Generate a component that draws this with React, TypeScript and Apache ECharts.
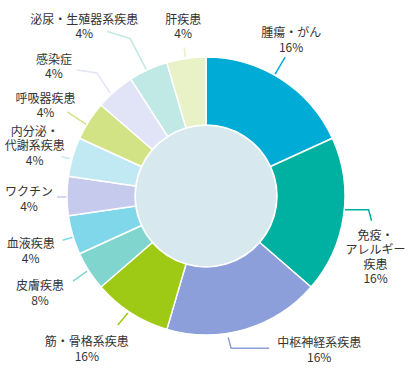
import React, { useEffect, useRef } from 'react';
import * as echarts from 'echarts';

const categories = [
  '腫瘍・がん',
  '免疫・\nアレルギー\n疾患',
  '中枢神経系疾患',
  '筋・骨格系疾患',
  '皮膚疾患',
  '血液疾患',
  'ワクチン',
  '内分泌・\n代謝系疾患',
  '呼吸器疾患',
  '感染症',
  '泌尿・生殖器系疾患',
  '肝疾患',
];
const sliceValues = [16, 16, 16, 8, 4, 4, 4, 4, 4, 4, 4, 4];
const labelPercents = [16, 16, 16, 16, 8, 4, 4, 4, 4, 4, 4, 4];
const colors = [
  '#00acd5', '#00b0a0', '#8c9fda', '#9ec914', '#80d6cf', '#80d7ea',
  '#c6caed', '#c0e9f4', '#d2e386', '#e1e3f6', '#c0e8e4', '#e9f2c7',
];

const CX = 206;
const CY = 196;
const R_OUT = 139;
const R_IN = 71;

// offsets relative to each slice's outer mid point: line points and label centre
const LABEL_LAYOUT: { pts: number[][]; c: number[] }[] = [
  { pts: [[-6, -5], [-1, -13.5], [4, -22]], c: [10, -40] },
  { pts: [[1, -6], [25, -6], [28, 5]], c: [32, 40] },
  { pts: [[-17, 8], [-14, 19], [24, 19]], c: [74, 19.5] },
  { pts: [[-3, 0], [-8, 6], [-13, 12]], c: [-44, 35] },
  { pts: [[-2, 0], [-9, 5], [-16, 10]], c: [-49, 21] },
  { pts: [[0, 2], [-5, 3.5], [-10, 5]], c: [-42, 15] },
  { pts: [[0, 1], [-5, 1], [-10, 1]], c: [-38, 2] },
  { pts: [[-3, 2], [-7, 1], [-11, 0]], c: [-38, -12] },
  { pts: [[-2, 4], [-12, -2.5], [-22, -9]], c: [-43.5, -16.5] },
  { pts: [[-5, 2], [-18, -18], [-38, -21]], c: [-61, -25.5] },
  { pts: [[-2, 0], [-18, -31], [-41, -38]], c: [-64, -44] },
  { pts: [[-1, -1], [-1.5, -6], [-2, -11]], c: [-3, -33] },
];

function midPoint(i: number): number[] {
  const total = sliceValues.reduce((a, b) => a + b, 0);
  let before = 0;
  for (let k = 0; k < i; k++) before += sliceValues[k];
  const ang = ((before + sliceValues[i] / 2) / total) * Math.PI * 2;
  return [CX + R_OUT * Math.sin(ang), CY - R_OUT * Math.cos(ang)];
}

export default function App() {
  const ref = useRef<HTMLDivElement>(null);
  useEffect(() => {
    document.body.style.margin = '0';
    if (!ref.current) return;
    const chart = echarts.init(ref.current, undefined, { renderer: 'svg' });
    chart.setOption({
      animation: false,
      series: [
        {
          type: 'pie',
          silent: true,
          center: [CX, CY],
          radius: [0, R_IN - 1],
          label: { show: false },
          labelLine: { show: false },
          itemStyle: { color: '#d7e8ef' },
          data: [{ value: 1, name: 'inner' }],
          z: 1,
        },
        {
          type: 'pie',
          center: [CX, CY],
          radius: [R_IN, R_OUT],
          startAngle: 90,
          clockwise: true,
          avoidLabelOverlap: false,
          itemStyle: { borderColor: '#ffffff', borderWidth: 1.5 },
          label: {
            show: true,
            position: 'outside',
            color: '#333333',
            fontSize: 12,
            lineHeight: 14.5,
            fontFamily: '"Noto Sans CJK JP", sans-serif',
            align: 'center',
            formatter: (p: any) => `${categories[p.dataIndex]}\n${labelPercents[p.dataIndex]}%`,
          },
          labelLine: { show: true, smooth: false, lineStyle: { width: 1.5 } },
          labelLayout: (params: any) => {
            const i = params.dataIndex;
            const p0 = params.labelLinePoints && params.labelLinePoints[0]
              ? params.labelLinePoints[0]
              : midPoint(i);
            const lay = LABEL_LAYOUT[i];
            return {
              x: p0[0] + lay.c[0],
              y: p0[1] + lay.c[1],
              align: 'center',
              verticalAlign: 'middle',
              labelLinePoints: lay.pts.map((d) => [p0[0] + d[0], p0[1] + d[1]]),
            };
          },
          data: categories.map((name, i) => ({
            name,
            value: sliceValues[i],
            itemStyle: { color: colors[i] },
          })),
          z: 2,
        },
      ],
    });
    return () => chart.dispose();
  }, []);
  return <div ref={ref} style={{ width: 412, height: 370 }} />;
}
